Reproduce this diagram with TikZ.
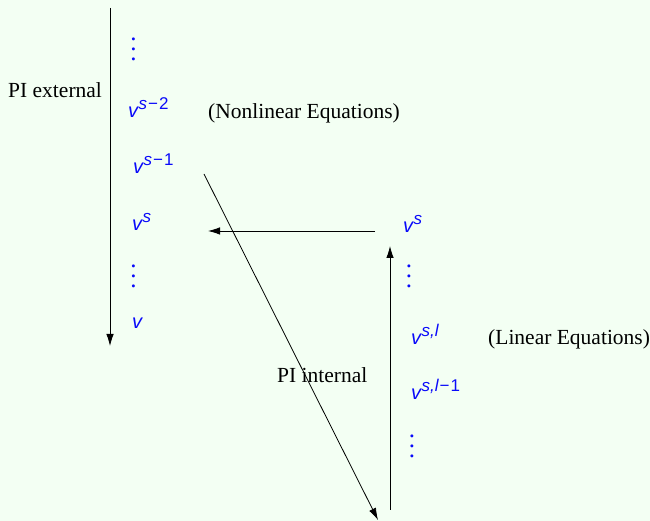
\documentclass[tikz,border=0pt]{standalone}
\usepackage{fontspec}
\setmainfont{Liberation Serif}
\newfontfamily\bsans{Liberation Sans}
\usetikzlibrary{arrows.meta}
\definecolor{bgmint}{RGB}{243,255,243}
\definecolor{vblue}{RGB}{10,10,250}
\newcommand{\vsup}[1]{{\bsans\fontsize{20}{24}\selectfont\itshape v\kern0.5pt\raisebox{8pt}{\fontsize{17}{18}\selectfont #1}}}
\newcommand{\mns}{\kern1pt\upshape −\kern1pt}
\newcommand{\vdts}{\scalebox{2.5}{$\vdots$}}
\begin{document}
\begin{tikzpicture}[x=1pt,y=1pt,
  vlab/.style={anchor=base west,inner sep=0pt,text=vblue},
  dlab/.style={anchor=center,inner sep=0pt,text=vblue},
  tlab/.style={anchor=base west,inner sep=0pt,font=\fontsize{21.5}{25}\selectfont},
  conn/.style={line width=0.8pt,-{Latex[length=12pt,width=7.5pt]}},
  plain/.style={line width=0.8pt}]
\fill[bgmint] (0,0) rectangle (650,521);
\useasboundingbox (0,0) rectangle (650,521);
% left column
\node[dlab] (d1) at (133.5,479) {\vdts};
\node[tlab] (pie) at (8,423) {PI external};
\node[vlab] (vsm2) at (128,403) {\vsup{\itshape s\mns 2}};
\node[tlab] (nle) at (208,402) {(Nonlinear Equations)};
\node[vlab] (vsm1) at (133,347) {\vsup{\itshape s\mns 1}};
\node[vlab] (vsl) at (132,290) {\vsup{\itshape s}};
\node[dlab] (d2) at (133.5,252) {\vdts};
\node[vlab] (vv) at (132,192) {\vsup{}};
% right column
\node[vlab] (vsr) at (403,288) {\vsup{\itshape s}};
\node[dlab] (d3) at (409,252.5) {\vdts};
\node[vlab] (vsl1) at (411,176) {\vsup{\itshape s,l}};
\node[tlab] (le) at (488,176) {(Linear Equations)};
\node[vlab] (vsl2) at (411,121) {\vsup{\itshape s,l\mns 1}};
\node[tlab] (pii) at (277,138) {PI internal};
\node[dlab] (d4) at (412,82) {\vdts};
% connector endpoints
\coordinate (lt) at (110,513);
\coordinate (lb) at (110,175);
\coordinate (hs) at (375,290);
\coordinate (he) at (208,290);
\coordinate (rb) at (390,11);
\coordinate (rt) at (390,275);
\coordinate (ds) at (204,347);
\coordinate (de) at (378,1);
\draw[conn] (lt) -- (lb);
\draw[conn] (hs) -- (he);
\draw[conn] (rb) -- (rt);
\draw[conn] (ds) -- (de);
\end{tikzpicture}
\end{document}
